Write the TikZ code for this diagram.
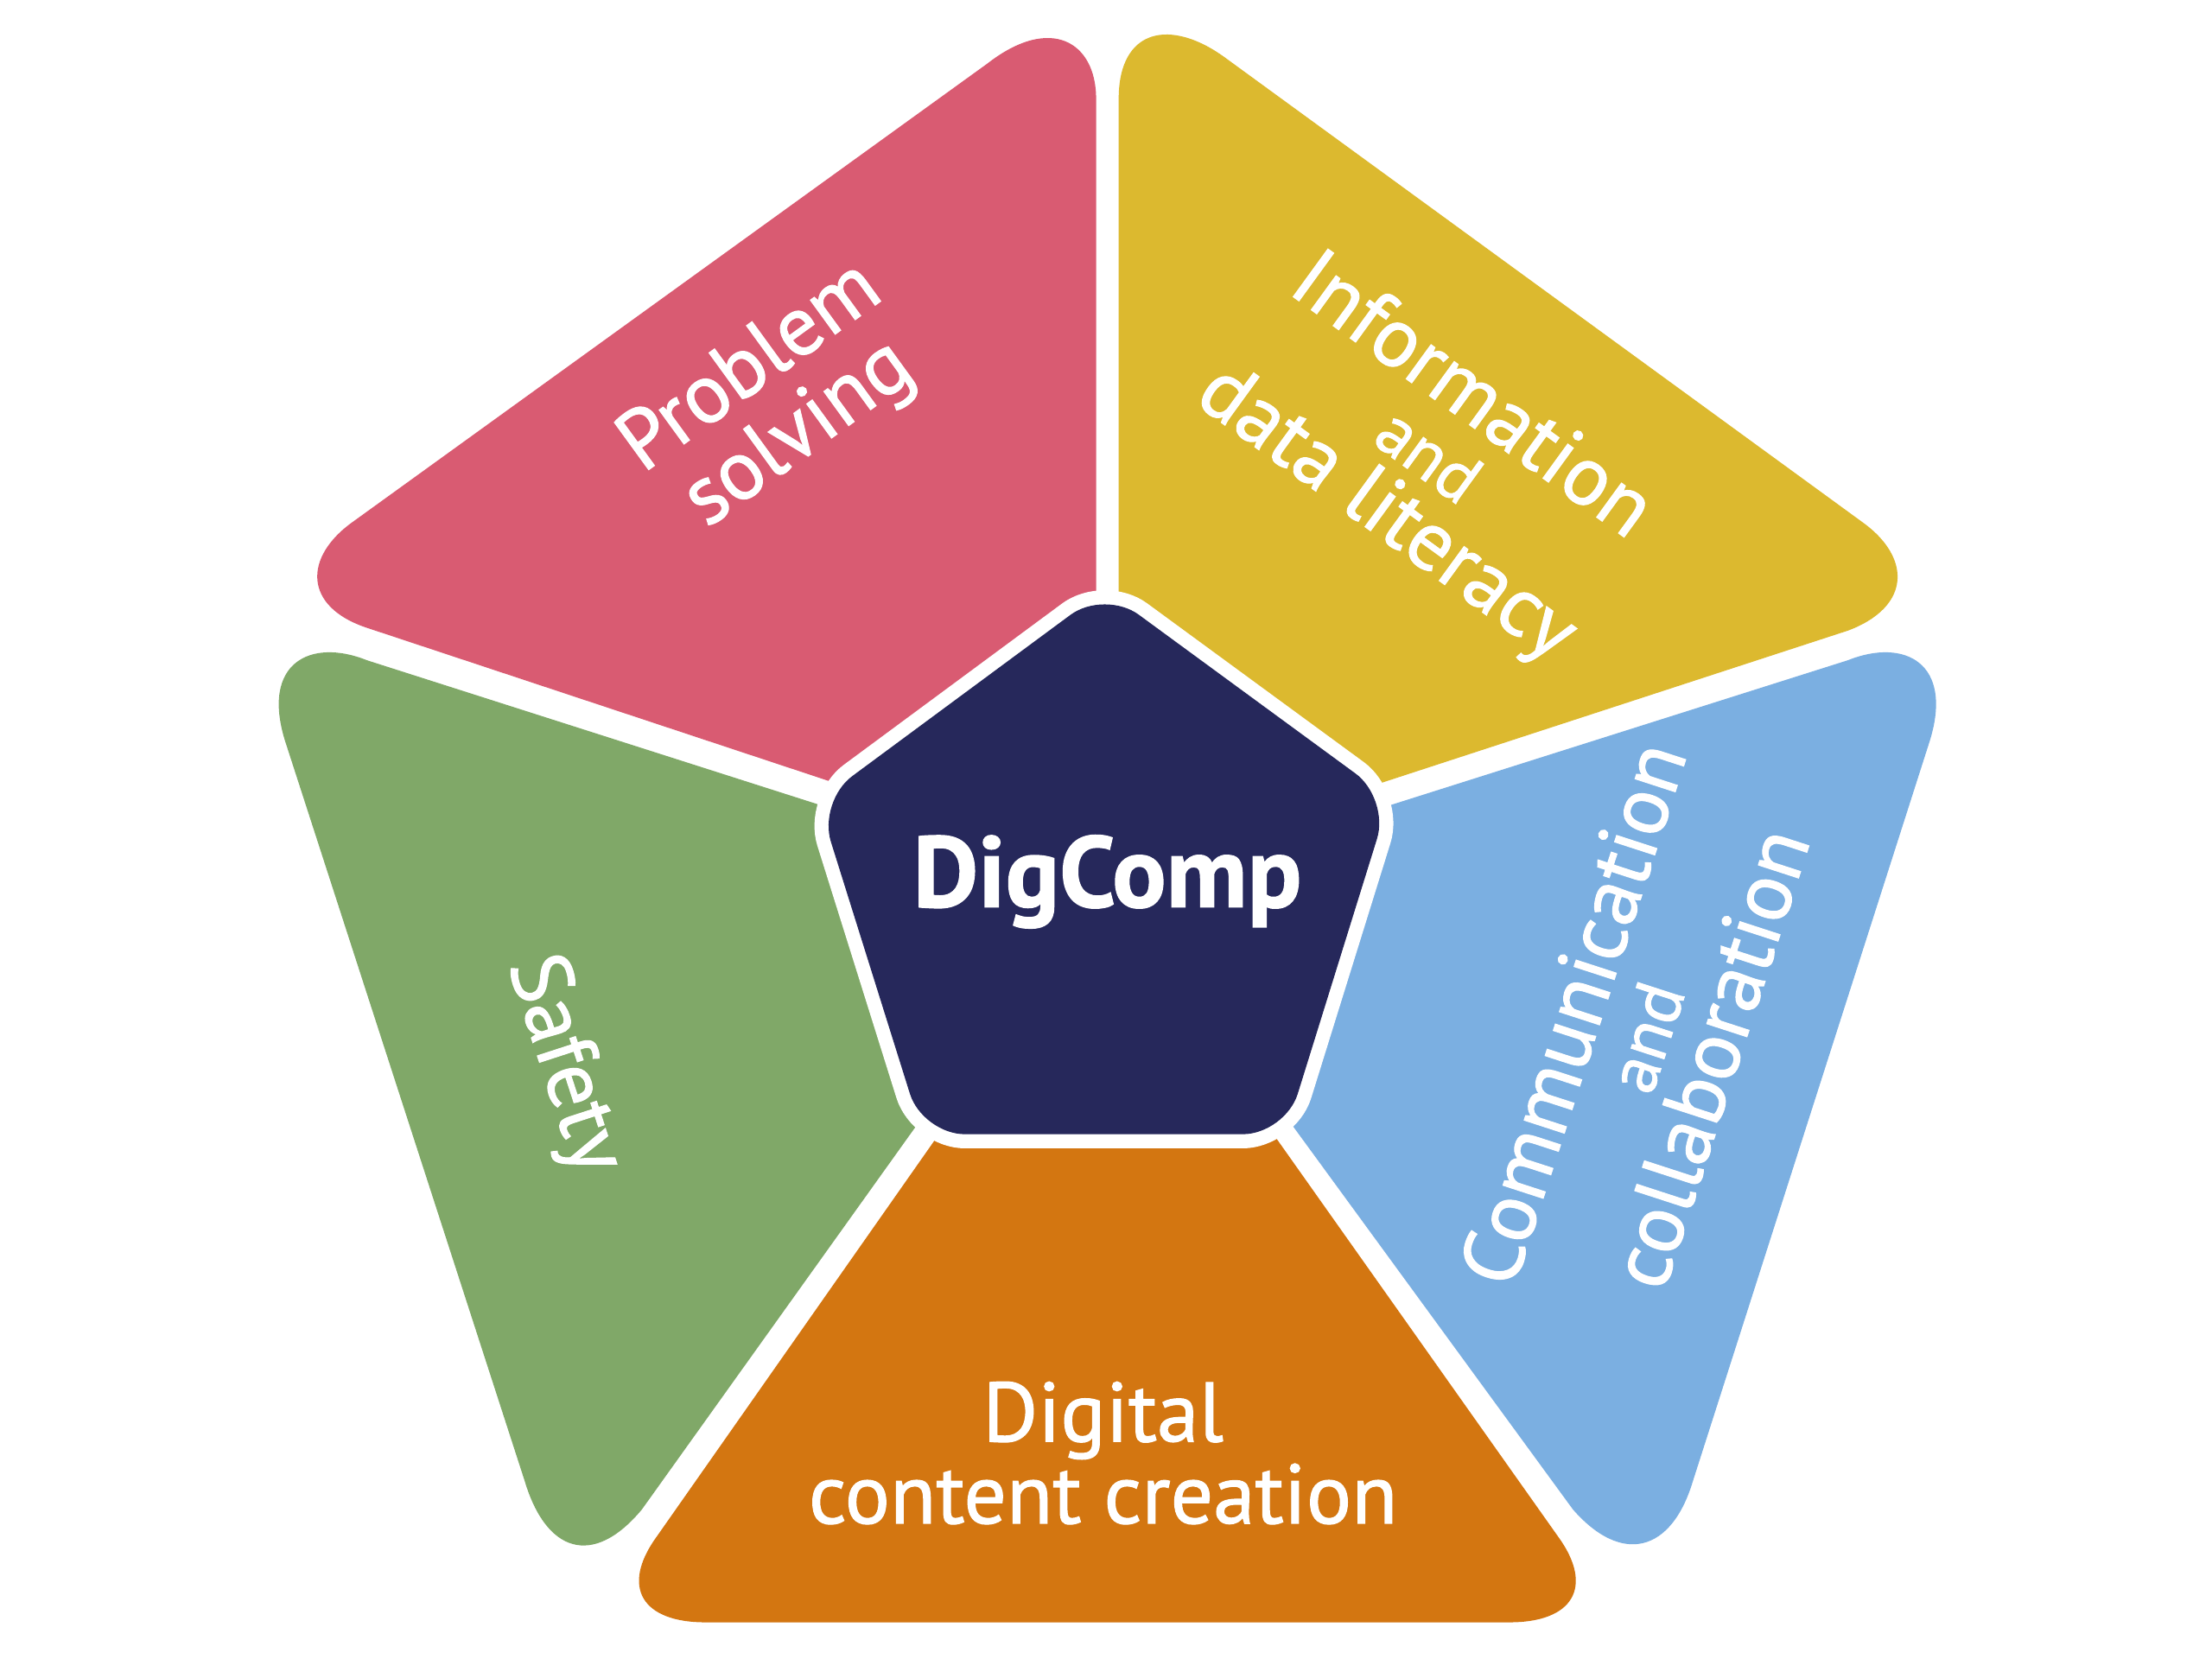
\documentclass[tikz,border=0pt]{standalone}
\usepackage{fontspec}
\setmainfont{PT Sans}[FakeBold=1.2]
\definecolor{cred}{HTML}{D95B72}
\definecolor{cyel}{HTML}{DCB92F}
\definecolor{cblu}{HTML}{7BAFE1}
\definecolor{cora}{HTML}{D37611}
\definecolor{cgre}{HTML}{80A868}
\definecolor{cnav}{HTML}{26285B}
\tikzset{
  seg/.style={line join=round},
  lab/.style={text=white,align=center,inner sep=0pt,font=\fontsize{17}{16.5}\selectfont},
}
\newcommand{\smalland}{{\fontsize{14}{14}\selectfont and}}
\begin{document}
\begin{tikzpicture}[x=0.01cm,y=-0.01cm]
\useasboundingbox (0,0) rectangle (1568,1176);
\fill[white] (0,0) rectangle (1568,1176);
\fill[cred,seg] (777,500) -- (777,70) .. controls (777,30) and (745,10) .. (700,45) -- (250,370) .. controls (215,395) and (215,430) .. (260,445) -- (640,571) -- cycle;
\fill[cyel,seg] (793,500) -- (793,70) .. controls (793,20) and (830,12) .. (870,42) -- (1320,370) .. controls (1355,395) and (1355,430) .. (1310,447) -- (930,571) -- cycle;
\fill[cblu,seg] (950,582) -- (1310,468) .. controls (1350,452) and (1385,470) .. (1368,525) -- (1200,1050) .. controls (1185,1100) and (1150,1110) .. (1115,1070) -- (890,762) -- cycle;
\fill[cora,seg] (688,772) -- (880,772) -- (1105,1090) .. controls (1130,1125) and (1115,1150) .. (1070,1150) -- (500,1150) .. controls (455,1150) and (440,1125) .. (465,1090) -- cycle;
\fill[cgre,seg] (620,583) -- (260,468) .. controls (220,452) and (185,470) .. (202,525) -- (372,1050) .. controls (387,1100) and (420,1112) .. (455,1070) -- (676,761) -- cycle;
\path[fill=cnav,rounded corners=0.3cm,preaction={draw=white,line width=0.2cm,line join=round}] (783,418) -- (985,566) -- (911,804) -- (654,804) -- (580,568) -- cycle;
\node[lab,rotate=36] (ps) at (550,285) {Problem\\solving};
\node[lab,rotate=-36] (id) at (1012,324) {Information\\[-2pt]\smalland\\[-2pt]data literacy};
\node[lab,rotate=72] (cc) at (1163,734) {Communication\\[-2pt]\smalland\\[-2pt]collaboration};
\node[lab] (dc) at (782,1030) {Digital\\content creation};
\node[lab,rotate=-72] (sa) at (399,755) {Safety};
\node[text=white,inner sep=0pt,font=\fontsize{20.3}{24}\selectfont\bfseries] (dg) at (785,625) {DigComp};
\end{tikzpicture}
\end{document}
